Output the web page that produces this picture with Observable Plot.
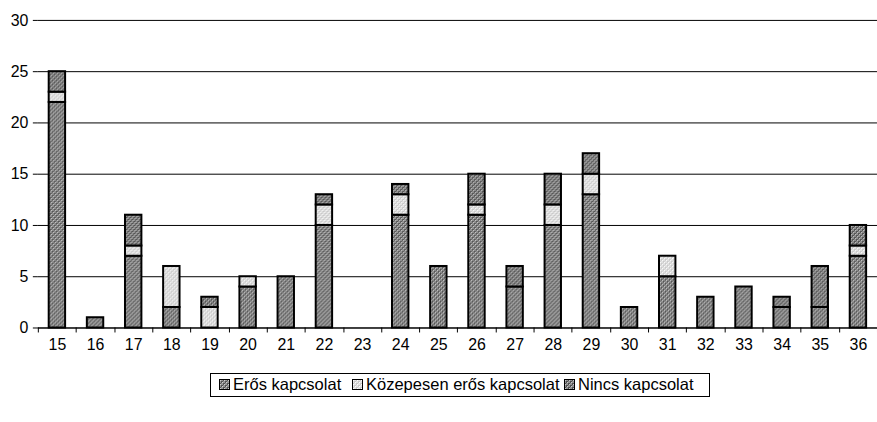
<!DOCTYPE html>
<html>
<head>
<meta charset="utf-8">
<script src="https://cdn.jsdelivr.net/npm/d3@7"></script>
<script src="https://cdn.jsdelivr.net/npm/@observablehq/plot@0.6"></script>
<style>
  body { margin: 0; background: #fff; font-family: "Liberation Sans", Arial, sans-serif; }
  #wrap { position: relative; width: 877px; height: 422px; overflow: hidden; }
  #chart { width: 877px; overflow: hidden; }
  #legend { position: absolute; left: 210px; top: 373px; width: 498px; height: 22px;
            border: 1px solid #000; font-size: 16.5px; white-space: nowrap; }
  #legend .sw { position: absolute; top: 5px; }
  #legend .tx { position: absolute; top: 1px; line-height: 19px; }
</style>
</head>
<body>
<div id="wrap">
  <div id="chart"></div>
  <div id="legend"></div>
</div>
<script>
const categories = ["15","16","17","18","19","20","21","22","23","24","25","26","27","28","29","30","31","32","33","34","35","36"];
const series = ["Erős kapcsolat", "Közepesen erős kapcsolat", "Nincs kapcsolat"];
const eros     = [22, 1, 7, 2, 0, 4, 5, 10, 0, 11, 6, 11, 4, 10, 13, 2, 5, 3, 4, 2, 2, 7];
const kozepes  = [ 1, 0, 1, 4, 2, 1, 0,  2, 0,  2, 0,  1, 0,  2,  2, 0, 2, 0, 0, 0, 0, 1];
const nincs    = [ 2, 0, 3, 0, 1, 0, 0,  1, 0,  1, 0,  3, 2,  3,  2, 0, 0, 0, 0, 1, 4, 2];
const yTicks = [0, 5, 10, 15, 20, 25, 30];

const values = [eros, kozepes, nincs];
const data = [];
categories.forEach((c, i) => {
  series.forEach((s, j) => {
    if (values[j][i] > 0) data.push({cat: c, series: s, value: values[j][i]});
  });
});

const fills = ["url(#pDark)", "url(#pLight)", "url(#pDark2)"];

const chart = Plot.plot({
  width: 881,
  height: 360,
  marginLeft: 38,
  marginRight: 0,
  marginTop: 20,
  marginBottom: 31,
  style: {fontFamily: "Liberation Sans, Arial, sans-serif", fontSize: "16px", color: "#000", background: "#fff", overflow: "visible"},
  x: {domain: categories, paddingInner: 0.57, paddingOuter: 0.285, round: false, label: null},
  y: {domain: [0, 30], ticks: yTicks, label: null},
  color: {type: "ordinal", domain: series, range: fills},
  marks: [
    Plot.gridY(yTicks, {stroke: "#000", strokeOpacity: 1, strokeWidth: 1}),
    Plot.barY(data, {x: "cat", y: "value", fill: "series", stroke: "#000", strokeWidth: 2, order: null}),
    Plot.axisY({ticks: yTicks, tickSize: 5, tickPadding: 5, label: null, fontSize: 16}),
    Plot.axisX({tickSize: 0, tickPadding: 11, label: null, fontSize: 16}),
    Plot.ruleY([0], {stroke: "#000"}),
    Plot.ruleX([0], {y1: 0, y2: 30, stroke: "#000", frameAnchor: "left"})
  ]
});

// band boundary tick marks on x axis
(function addBoundaryTicks() {
  const xs = chart.scale("x");
  const ys = chart.scale("y");
  const y0 = ys.apply(0);
  const step = xs.step;
  const first = xs.apply(categories[0]);
  const bw = xs.bandwidth;
  const start = first + bw / 2 - step / 2;
  const g = document.createElementNS("http://www.w3.org/2000/svg", "g");
  for (let i = 0; i <= categories.length; i++) {
    const x = Math.round(start + i * step) + 0.5;
    const l = document.createElementNS("http://www.w3.org/2000/svg", "line");
    l.setAttribute("x1", x); l.setAttribute("x2", x);
    l.setAttribute("y1", y0); l.setAttribute("y2", y0 + 5);
    l.setAttribute("stroke", "#000");
    g.appendChild(l);
  }
  chart.appendChild(g);
})();

const defs = `
<defs>
  <pattern id="pDark" width="4" height="4" patternUnits="userSpaceOnUse">
    <rect width="4" height="4" fill="#959595"/>
    <rect x="0" y="0" width="2" height="2" fill="#555"/>
    <rect x="2" y="2" width="2" height="2" fill="#555"/>
    <rect x="1" y="1" width="1" height="1" fill="#d0d0d0"/>
    <rect x="3" y="3" width="1" height="1" fill="#d0d0d0"/>
  </pattern>
  <pattern id="pDark2" width="4" height="4" patternUnits="userSpaceOnUse">
    <rect width="4" height="4" fill="#909090"/>
    <rect x="0" y="0" width="2" height="2" fill="#505050"/>
    <rect x="2" y="2" width="2" height="2" fill="#505050"/>
    <rect x="1" y="1" width="1" height="1" fill="#c8c8c8"/>
    <rect x="3" y="3" width="1" height="1" fill="#c8c8c8"/>
  </pattern>
  <pattern id="pLight" width="4" height="4" patternUnits="userSpaceOnUse">
    <rect width="4" height="4" fill="#e4e4e4"/>
    <rect x="0" y="0" width="2" height="2" fill="#c8c8c8"/>
    <rect x="2" y="2" width="2" height="2" fill="#c8c8c8"/>
    <rect x="1" y="1" width="1" height="1" fill="#fff"/>
    <rect x="3" y="3" width="1" height="1" fill="#fff"/>
  </pattern>
</defs>`;
chart.insertAdjacentHTML("afterbegin", defs);
document.getElementById("chart").appendChild(chart);

// legend (positions relative to legend box)
const legendSwatchX = [8, 141, 353];
const legend = document.getElementById("legend");
series.forEach((s, j) => {
  const sw = document.createElement("span");
  sw.className = "sw";
  sw.style.left = legendSwatchX[j] + "px";
  sw.innerHTML = `<svg width="11" height="11" style="display:block"><rect x="0.5" y="0.5" width="10" height="10" fill="${fills[j]}" stroke="#000" stroke-width="1"/></svg>`;
  const tx = document.createElement("span");
  tx.className = "tx";
  tx.style.left = (legendSwatchX[j] + 14) + "px";
  tx.textContent = s;
  legend.appendChild(sw);
  legend.appendChild(tx);
});
</script>
</body>
</html>
